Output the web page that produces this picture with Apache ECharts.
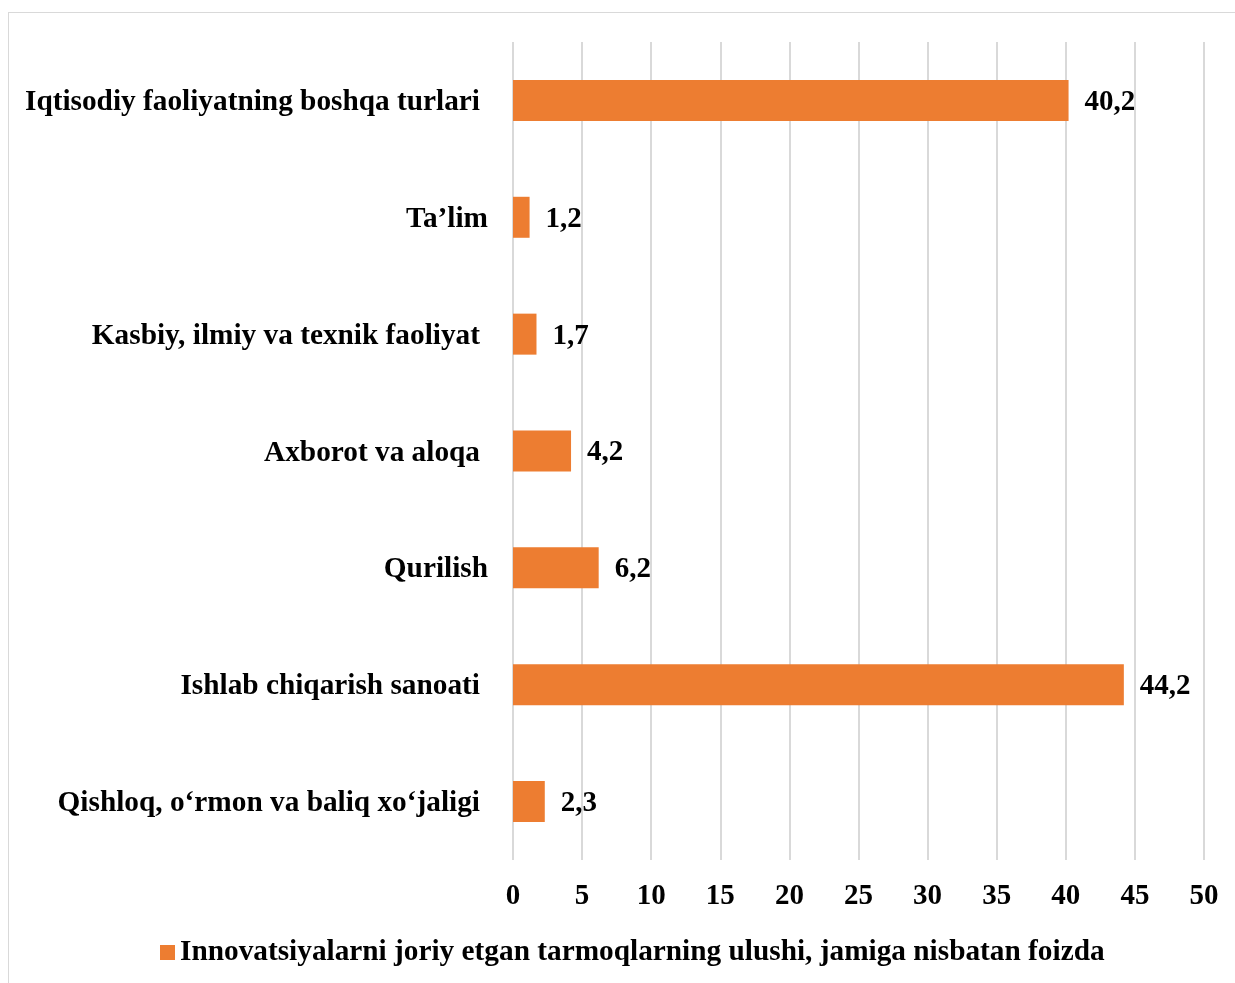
<!DOCTYPE html>
<html>
<head>
<meta charset="utf-8">
<script src="https://cdn.jsdelivr.net/npm/echarts@6/dist/echarts.min.js"></script>
<style>
html,body{margin:0;padding:0;background:#fff;}
#frame{position:absolute;left:8px;top:12px;width:1240px;height:1000px;border:1px solid #d9d9d9;box-sizing:border-box;}
#chart{position:absolute;left:0;top:0;width:1235px;height:983px;}
</style>
</head>
<body>
<div id="frame"></div>
<div id="chart"></div>
<script>
const categories = [
  "Qishloq, o‘rmon va baliq xo‘jaligi",
  "Ishlab chiqarish sanoati",
  "Qurilish",
  "Axborot va aloqa",
  "Kasbiy, ilmiy va texnik faoliyat",
  "Ta’lim",
  "Iqtisodiy faoliyatning boshqa turlari"
];
const values = [2.3, 44.2, 6.2, 4.2, 1.7, 1.2, 40.2];
const seriesName = "Innovatsiyalarni joriy etgan tarmoqlarning ulushi, jamiga nisbatan foizda";
const shortLabels = ["Qurilish", "Ta’lim"];

const font = '"Liberation Serif", "Times New Roman", serif';
const baseText = {fontFamily: font, fontSize: 29, fontWeight: 'bold', color: '#000'};
const chart = echarts.init(document.getElementById('chart'), null, {renderer: 'canvas'});
chart.setOption({
  animation: false,
  textStyle: {fontFamily: font},
  grid: {left: 513, right: 31, top: 42, bottom: 123, containLabel: false},
  legend: {
    data: [seriesName],
    bottom: 11,
    left: 155,
    itemWidth: 15, itemHeight: 15, itemGap: 6,
    icon: 'rect',
    textStyle: Object.assign({}, baseText, {fontSize: 29.3})
  },
  xAxis: {
    type: 'value', min: 0, max: 50, interval: 5,
    axisLine: {show: false}, axisTick: {show: false},
    splitLine: {show: true, lineStyle: {color: '#d9d9d9', width: 2}},
    axisLabel: Object.assign({}, baseText, {margin: 22})
  },
  yAxis: {
    type: 'category', data: categories,
    axisLine: {show: false}, axisTick: {show: false},
    axisLabel: Object.assign({}, baseText, {
      margin: 25,
      formatter: v => shortLabels.includes(v) ? '{s|' + v + '}' : '{p|' + v + '}',
      rich: {
        p: Object.assign({}, baseText, {fontSize: 29.3, padding: [4, 8, 0, 0]}),
        s: Object.assign({}, baseText, {fontSize: 29.3, padding: [4, 0, 0, 0]})
      }
    })
  },
  series: [{
    name: seriesName,
    type: 'bar',
    data: values,
    barWidth: 41,
    itemStyle: {color: '#ED7D31'},
    label: Object.assign({}, baseText, {
      show: true, position: 'right', distance: 16, offset: [0, 2],
      formatter: p => String(p.value).replace('.', ',')
    })
  }]
});
</script>
</body>
</html>
